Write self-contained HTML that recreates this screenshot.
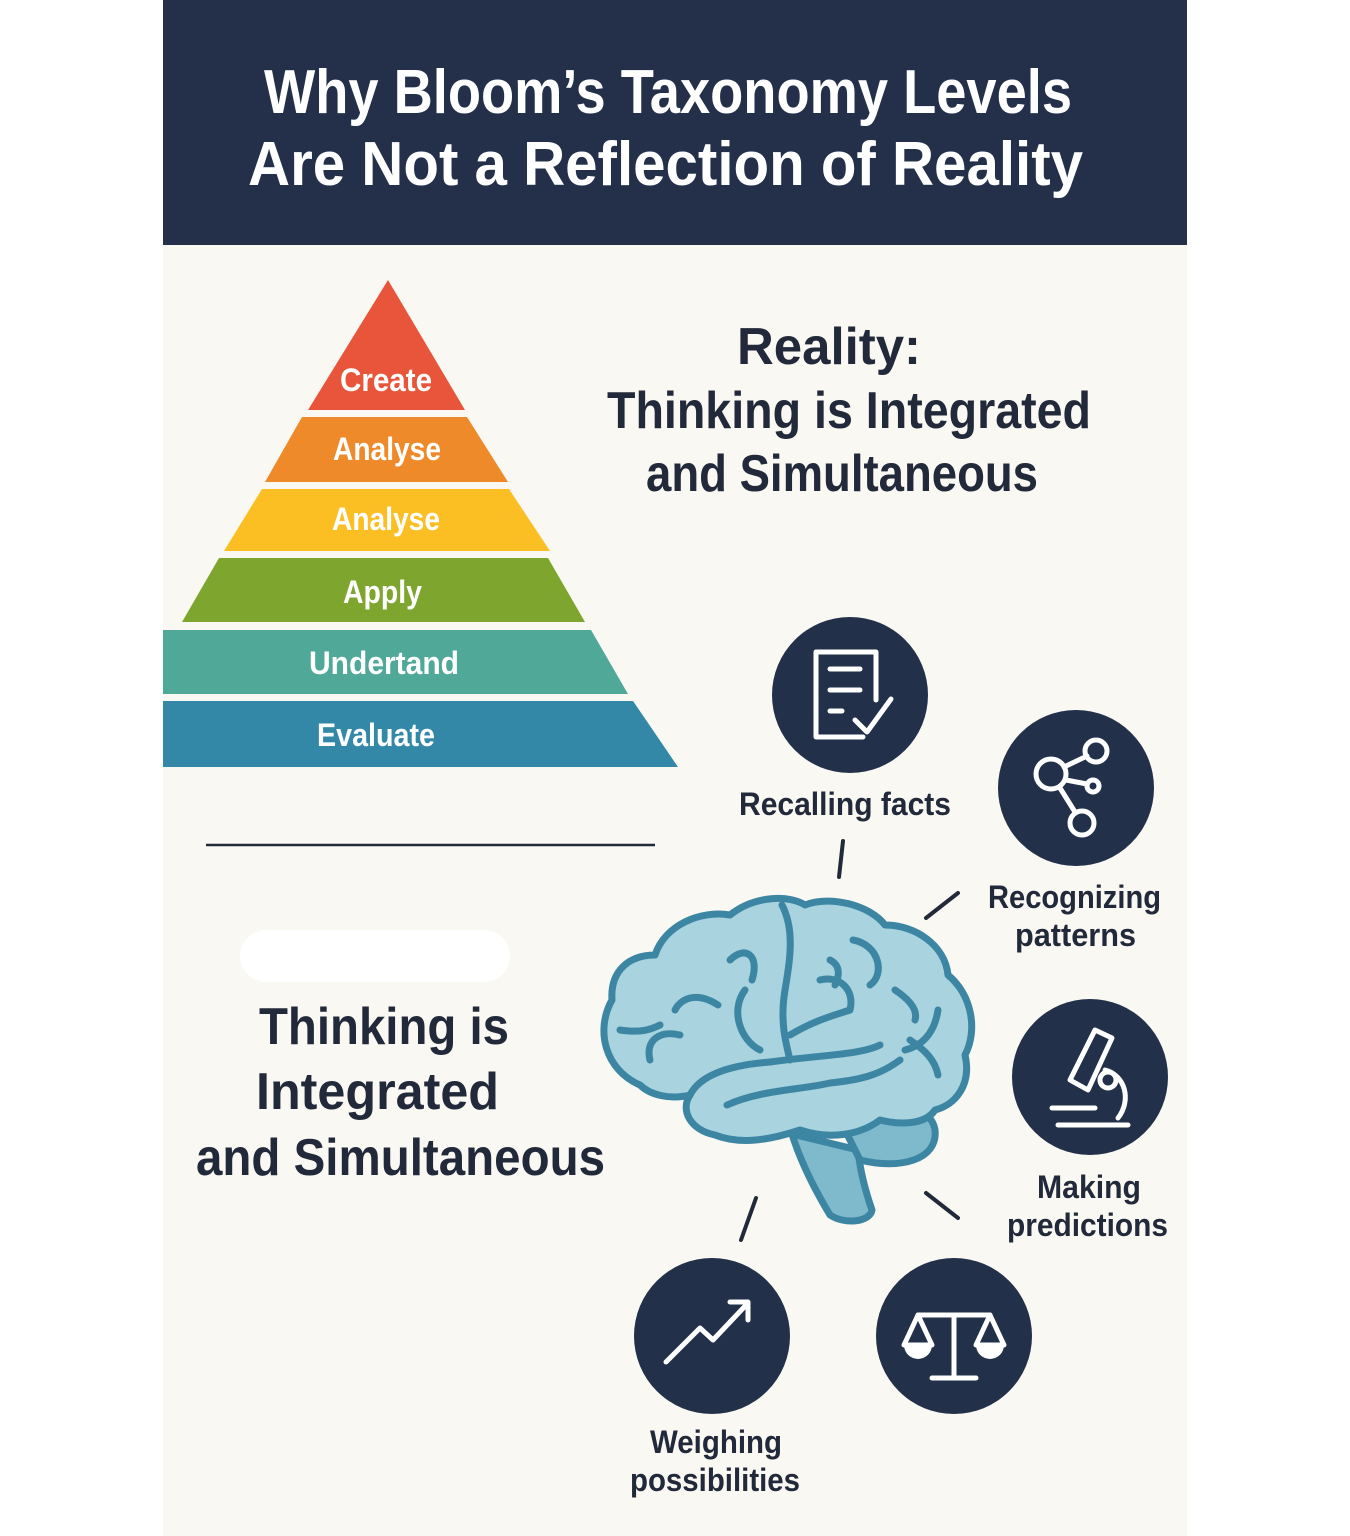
<!DOCTYPE html>
<html><head><meta charset="utf-8"><style>
html,body{margin:0;padding:0;background:#fff;}
svg{display:block;}
text{font-family:"Liberation Sans","DejaVu Sans",sans-serif;font-weight:bold;}
</style></head><body>
<svg width="1350" height="1536" viewBox="0 0 1350 1536" xmlns="http://www.w3.org/2000/svg">
<rect x="0" y="0" width="1350" height="1536" fill="#ffffff"/>
<rect x="163" y="245" width="1024" height="1291" fill="#faf8f3"/>
<rect x="163" y="0" width="1024" height="245" fill="#24304a"/>
<text x="264" y="113" font-size="62" fill="#fff" textLength="808" lengthAdjust="spacingAndGlyphs">Why Bloom’s Taxonomy Levels</text>
<text x="248" y="185" font-size="62" fill="#fff" textLength="835" lengthAdjust="spacingAndGlyphs">Are Not a Reflection of Reality</text>

<!-- pyramid -->
<polygon points="388,280 465,410 308,410" fill="#e8553a"/>
<polygon points="302,417 467,417 508,482 265,482" fill="#ee8a2a"/>
<polygon points="262,489 509,489 550,551 224,551" fill="#fbbf24"/>
<polygon points="219,558 548,558 585,622 182,622" fill="#7ea62e"/>
<polygon points="163,630 591,630 628,694 163,694" fill="#4fa898"/>
<polygon points="163,701 633,701 678,767 163,767" fill="#3388a8"/>
<g fill="#fff" font-size="32">
<text x="340" y="391" textLength="92" lengthAdjust="spacingAndGlyphs">Create</text>
<text x="333" y="460" textLength="108" lengthAdjust="spacingAndGlyphs">Analyse</text>
<text x="332" y="530" textLength="108" lengthAdjust="spacingAndGlyphs">Analyse</text>
<text x="343" y="603" textLength="79" lengthAdjust="spacingAndGlyphs">Apply</text>
<text x="309" y="674" textLength="150" lengthAdjust="spacingAndGlyphs">Undertand</text>
<text x="317" y="746" textLength="118" lengthAdjust="spacingAndGlyphs">Evaluate</text>
</g>

<g fill="#22293a" font-size="52">
<text x="737" y="364" textLength="184" lengthAdjust="spacingAndGlyphs">Reality:</text>
<text x="607" y="428" textLength="484" lengthAdjust="spacingAndGlyphs">Thinking is Integrated</text>
<text x="646" y="491" textLength="392" lengthAdjust="spacingAndGlyphs">and Simultaneous</text>
<text x="259" y="1044" textLength="250" lengthAdjust="spacingAndGlyphs">Thinking is</text>
<text x="256" y="1109" textLength="243" lengthAdjust="spacingAndGlyphs">Integrated</text>
<text x="196" y="1175" textLength="409" lengthAdjust="spacingAndGlyphs">and Simultaneous</text>
</g>

<line x1="206" y1="845" x2="655" y2="845" stroke="#22293a" stroke-width="2.5"/>
<rect x="240" y="930" width="270" height="52" rx="26" fill="#ffffff"/>

<g stroke="#22293a" stroke-width="4" stroke-linecap="round">
<line x1="843" y1="841" x2="839" y2="877"/>
<line x1="926" y1="918" x2="958" y2="893"/>
<line x1="926" y1="1193" x2="958" y2="1218"/>
<line x1="756" y1="1198" x2="741" y2="1240"/>
</g>

<!-- brain -->
<g stroke="#3d86a3" stroke-width="7" stroke-linecap="round" stroke-linejoin="round" fill="none">
<path d="M792,1134 C800,1160 815,1190 830,1215 C845,1225 870,1222 872,1210 C865,1190 860,1170 858,1150 Z" fill="#7fb9cc"/>
<path d="M840,1120 C880,1100 930,1100 935,1130 C938,1160 900,1170 860,1160 Z" fill="#7fb9cc"/>
<path d="M640,1085 C605,1070 595,1030 612,1000 C610,970 630,955 655,955 C665,925 700,910 730,915 C755,895 790,895 805,905 C830,895 870,905 885,925 C915,925 945,945 948,975 C972,995 978,1030 965,1055 C972,1085 955,1105 935,1110 C925,1125 900,1125 880,1120 C860,1135 830,1140 800,1130 C770,1140 740,1145 715,1135 C690,1130 680,1110 690,1095 C670,1100 650,1095 640,1085 Z" fill="#a9d3df"/>
<path d="M690,1095 C700,1075 730,1065 770,1062 C820,1055 860,1055 880,1045"/>
<path d="M727,1105 C760,1090 800,1090 830,1083 C860,1080 880,1075 900,1060"/>
<path d="M782,905 C795,930 790,960 785,990 C780,1020 785,1040 790,1060"/>
<path d="M820,980 C840,975 855,990 850,1010 C835,1015 815,1020 790,1035"/>
<path d="M745,990 C730,1010 740,1040 760,1050"/>
<path d="M718,1005 C695,990 680,1000 675,1010"/>
<path d="M680,1035 C660,1030 645,1040 650,1060"/>
<path d="M620,1030 C640,1033 650,1030 660,1025"/>
<path d="M730,960 C745,945 760,955 752,980"/>
<path d="M853,940 C880,945 885,975 870,985"/>
<path d="M895,990 C910,1000 918,1010 915,1020"/>
<path d="M938,1010 C935,1030 925,1045 905,1050"/>
<path d="M910,1040 C925,1050 935,1060 938,1075"/>
<path d="M830,960 C840,965 840,975 835,985"/>
</g>

<g fill="#22304a">
<circle cx="850" cy="695" r="78"/>
<circle cx="1076" cy="788" r="78"/>
<circle cx="1090" cy="1077" r="78"/>
<circle cx="712" cy="1336" r="78"/>
<circle cx="954" cy="1336" r="78"/>
</g>
<g stroke="#fff" stroke-width="5" fill="none" stroke-linecap="round" stroke-linejoin="round">
<path d="M863,737 H816 V652 H876 V700"/>
<line x1="830" y1="669" x2="860" y2="669"/><line x1="830" y1="690" x2="860" y2="690"/><line x1="830" y1="711" x2="842" y2="711"/>
<path d="M855,720 L867,732 L891,699"/>
<circle cx="1051" cy="774" r="15"/><circle cx="1096" cy="751" r="11"/><circle cx="1093" cy="786" r="6"/><circle cx="1082" cy="823" r="12"/>
<line x1="1064" y1="767" x2="1087" y2="756"/><line x1="1066" y1="780" x2="1087" y2="784"/><line x1="1060" y1="788" x2="1075" y2="812"/>
<line x1="1058" y1="1125" x2="1128" y2="1125"/><line x1="1052" y1="1108" x2="1095" y2="1108"/>
<path d="M1070,1080 L1095,1030 L1112,1038 L1088,1090 Z"/>
<path d="M1105,1070 C1125,1075 1132,1100 1118,1118"/>
<circle cx="1108" cy="1080" r="8"/>
<path d="M666,1362 L700,1328 L713,1340 L748,1303"/><path d="M730,1302 H748 V1320"/>
<line x1="954" y1="1315" x2="954" y2="1376"/><line x1="932" y1="1378" x2="976" y2="1378"/>
<path d="M918,1315 L990,1315"/>
<path d="M918,1315 L904,1345 H932 Z"/><path d="M990,1315 L976,1345 H1004 Z"/>
</g>
<path d="M904,1345 A14,14 0 0 0 932,1345 Z M976,1345 A14,14 0 0 0 1004,1345 Z" fill="#fff"/>

<g fill="#22293a" font-size="32">
<text x="739" y="815" textLength="212" lengthAdjust="spacingAndGlyphs">Recalling facts</text>
<text x="988" y="908" textLength="173" lengthAdjust="spacingAndGlyphs">Recognizing</text>
<text x="1015" y="946" textLength="121" lengthAdjust="spacingAndGlyphs">patterns</text>
<text x="1037" y="1198" textLength="104" lengthAdjust="spacingAndGlyphs">Making</text>
<text x="1007" y="1236" textLength="161" lengthAdjust="spacingAndGlyphs">predictions</text>
<text x="650" y="1453" textLength="132" lengthAdjust="spacingAndGlyphs">Weighing</text>
<text x="630" y="1491" textLength="170" lengthAdjust="spacingAndGlyphs">possibilities</text>
</g>
</svg>
</body></html>
